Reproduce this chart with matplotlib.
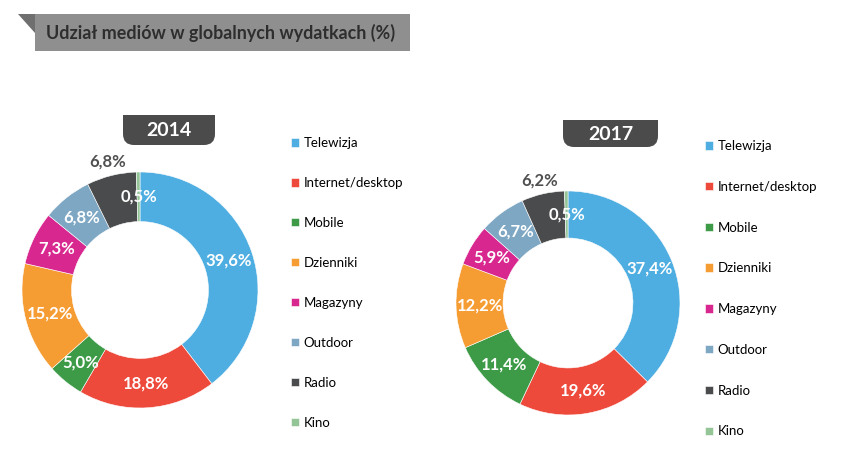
import matplotlib
matplotlib.use('Agg')
import matplotlib.pyplot as plt
from matplotlib.patches import Polygon, Rectangle, FancyBboxPatch
import numpy as np

plt.rcParams['font.family'] = ['Lato', 'DejaVu Sans']

categories = ['Telewizja', 'Internet/desktop', 'Mobile', 'Dzienniki',
              'Magazyny', 'Outdoor', 'Radio', 'Kino']
share_2014 = [39.6, 18.8, 5.0, 15.2, 7.3, 6.8, 6.8, 0.5]
share_2017 = [37.4, 19.6, 11.4, 12.2, 5.9, 6.7, 6.2, 0.5]
years = ['2014', '2017']
title = 'Udział mediów w globalnych wydatkach (%)'

colors = ['#4FAEE1', '#EE4A3C', '#3D9B47', '#F59C33',
          '#D8288F', '#7EA7C3', '#4A4B4D', '#94C597']

W, H = 844, 476
fig = plt.figure(figsize=(W / 100, H / 100), dpi=100)
fig.patch.set_facecolor('white')

# overlay in pixel coordinates for the decorations
bg = fig.add_axes([0, 0, 1, 1])
bg.set_xlim(0, W)
bg.set_ylim(H, 0)
bg.axis('off')

# title banner
bg.add_patch(Rectangle((35, 14), 375, 37, facecolor='#8F8F8F', edgecolor='none'))
bg.add_patch(Polygon([(18, 14), (35, 14), (35, 33)], closed=True,
                     facecolor='#6F6F6F', edgecolor='none'))
bg.text(221, 33, title, ha='center', va='center', fontsize=12.9,
        fontweight='bold', color='#2E2E2E')


def year_tab(x0, y0, w, h, label):
    bg.add_patch(FancyBboxPatch((x0, y0), w, h, boxstyle='round,pad=0,rounding_size=11',
                                facecolor='#4B4B4B', edgecolor='none'))
    bg.add_patch(Rectangle((x0, y0), w, h / 2, facecolor='#4B4B4B', edgecolor='none'))
    bg.text(x0 + w / 2, y0 + h / 2 + 1, label, ha='center', va='center',
            fontsize=14, fontweight='bold', color='white')


year_tab(123, 115, 92, 30, years[0])
year_tab(563, 120, 95, 27, years[1])


def donut(cx, cy, R, values, legend_x, legend_top, spacing):
    ax = fig.add_axes([(cx - R) / W, (H - cy - R) / H, 2 * R / W, 2 * R / H])
    wedges, _ = ax.pie(values, colors=colors, startangle=90, counterclock=False,
                       radius=1, wedgeprops=dict(width=0.42, edgecolor='white', linewidth=0.4))
    ax.set_xlim(-1, 1)
    ax.set_ylim(-1, 1)
    ax.set_aspect('equal')
    ax.axis('off')
    for i, (w, v) in enumerate(zip(wedges, values)):
        ang = np.deg2rad((w.theta1 + w.theta2) / 2)
        txt = f'{v:.1f}%'.replace('.', ',')
        if categories[i] == 'Radio':
            r, col = 1.12, '#505050'
        else:
            r, col = 0.79, 'white'
        ax.text(r * np.cos(ang), r * np.sin(ang), txt, ha='center', va='center',
                fontsize=12, fontweight='bold', color=col)
    fig.legend(wedges, categories, loc='upper left',
               bbox_to_anchor=(legend_x / W, 1 - legend_top / H),
               frameon=False, fontsize=9.5, handlelength=0.6, handleheight=0.6,
               handletextpad=0.35, labelspacing=spacing, borderpad=0, borderaxespad=0)


donut(140, 290, 118, share_2014, 291, 137, 2.12)
donut(568, 303, 112, share_2017, 705, 140, 2.18)

fig.savefig('out.png', dpi=100)
